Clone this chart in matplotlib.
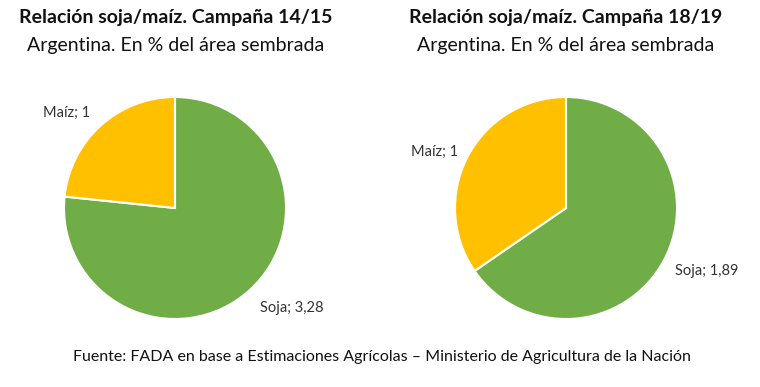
import matplotlib.pyplot as plt

plt.rcParams['font.family'] = ['Lato', 'DejaVu Sans']

# data
categories = ["Soja", "Maíz"]
soja_maiz_1415 = [3.28, 1]
soja_maiz_1819 = [1.89, 1]
value_labels_1415 = ["3,28", "1"]
value_labels_1819 = ["1,89", "1"]
colors = ["#70AD47", "#FFC000"]

W, H = 760, 387
fig = plt.figure(figsize=(W / 100, H / 100), dpi=100)


def px_axes(cx, cy, r):
    # axes box in pixel coords (top-left origin)
    return fig.add_axes([(cx - r) / W, 1 - (cy + r) / H, 2 * r / W, 2 * r / H])


def draw_pie(ax, vals):
    ax.pie(vals, colors=colors, startangle=90, counterclock=False,
           wedgeprops=dict(edgecolor="white", linewidth=1.5))
    ax.set_xlim(-1, 1)
    ax.set_ylim(-1, 1)
    ax.set_aspect("equal")
    ax.axis("off")


def ftext(x, y, s, **kw):
    fig.text(x / W, 1 - y / H, s, **kw)


ax1 = px_axes(175, 208, 111)
draw_pie(ax1, soja_maiz_1415)
ax2 = px_axes(566, 208, 111)
draw_pie(ax2, soja_maiz_1819)

# titles
ftext(176, 18, "Relación soja/maíz. Campaña 14/15", ha="center", va="center",
      fontsize=14, fontweight="bold", color="#111111")
ftext(176, 46, "Argentina. En % del área sembrada", ha="center", va="center",
      fontsize=14, color="#111111")
ftext(566, 18, "Relación soja/maíz. Campaña 18/19", ha="center", va="center",
      fontsize=14, fontweight="bold", color="#111111")
ftext(566, 46, "Argentina. En % del área sembrada", ha="center", va="center",
      fontsize=14, color="#111111")

# data labels
lab = dict(fontsize=10.5, color="#333333", va="center")
ftext(43, 113, f"{categories[1]}; {value_labels_1415[1]}", ha="left", **lab)
ftext(260, 308, f"{categories[0]}; {value_labels_1415[0]}", ha="left", **lab)
ftext(411, 152, f"{categories[1]}; {value_labels_1819[1]}", ha="left", **lab)
ftext(675, 271, f"{categories[0]}; {value_labels_1819[0]}", ha="left", **lab)

# source
ftext(382, 357, "Fuente: FADA en base a Estimaciones Agrícolas – Ministerio de Agricultura de la Nación",
      ha="center", va="center", fontsize=11.5, color="#111111")

fig.savefig("out.png", dpi=100, facecolor="white")
